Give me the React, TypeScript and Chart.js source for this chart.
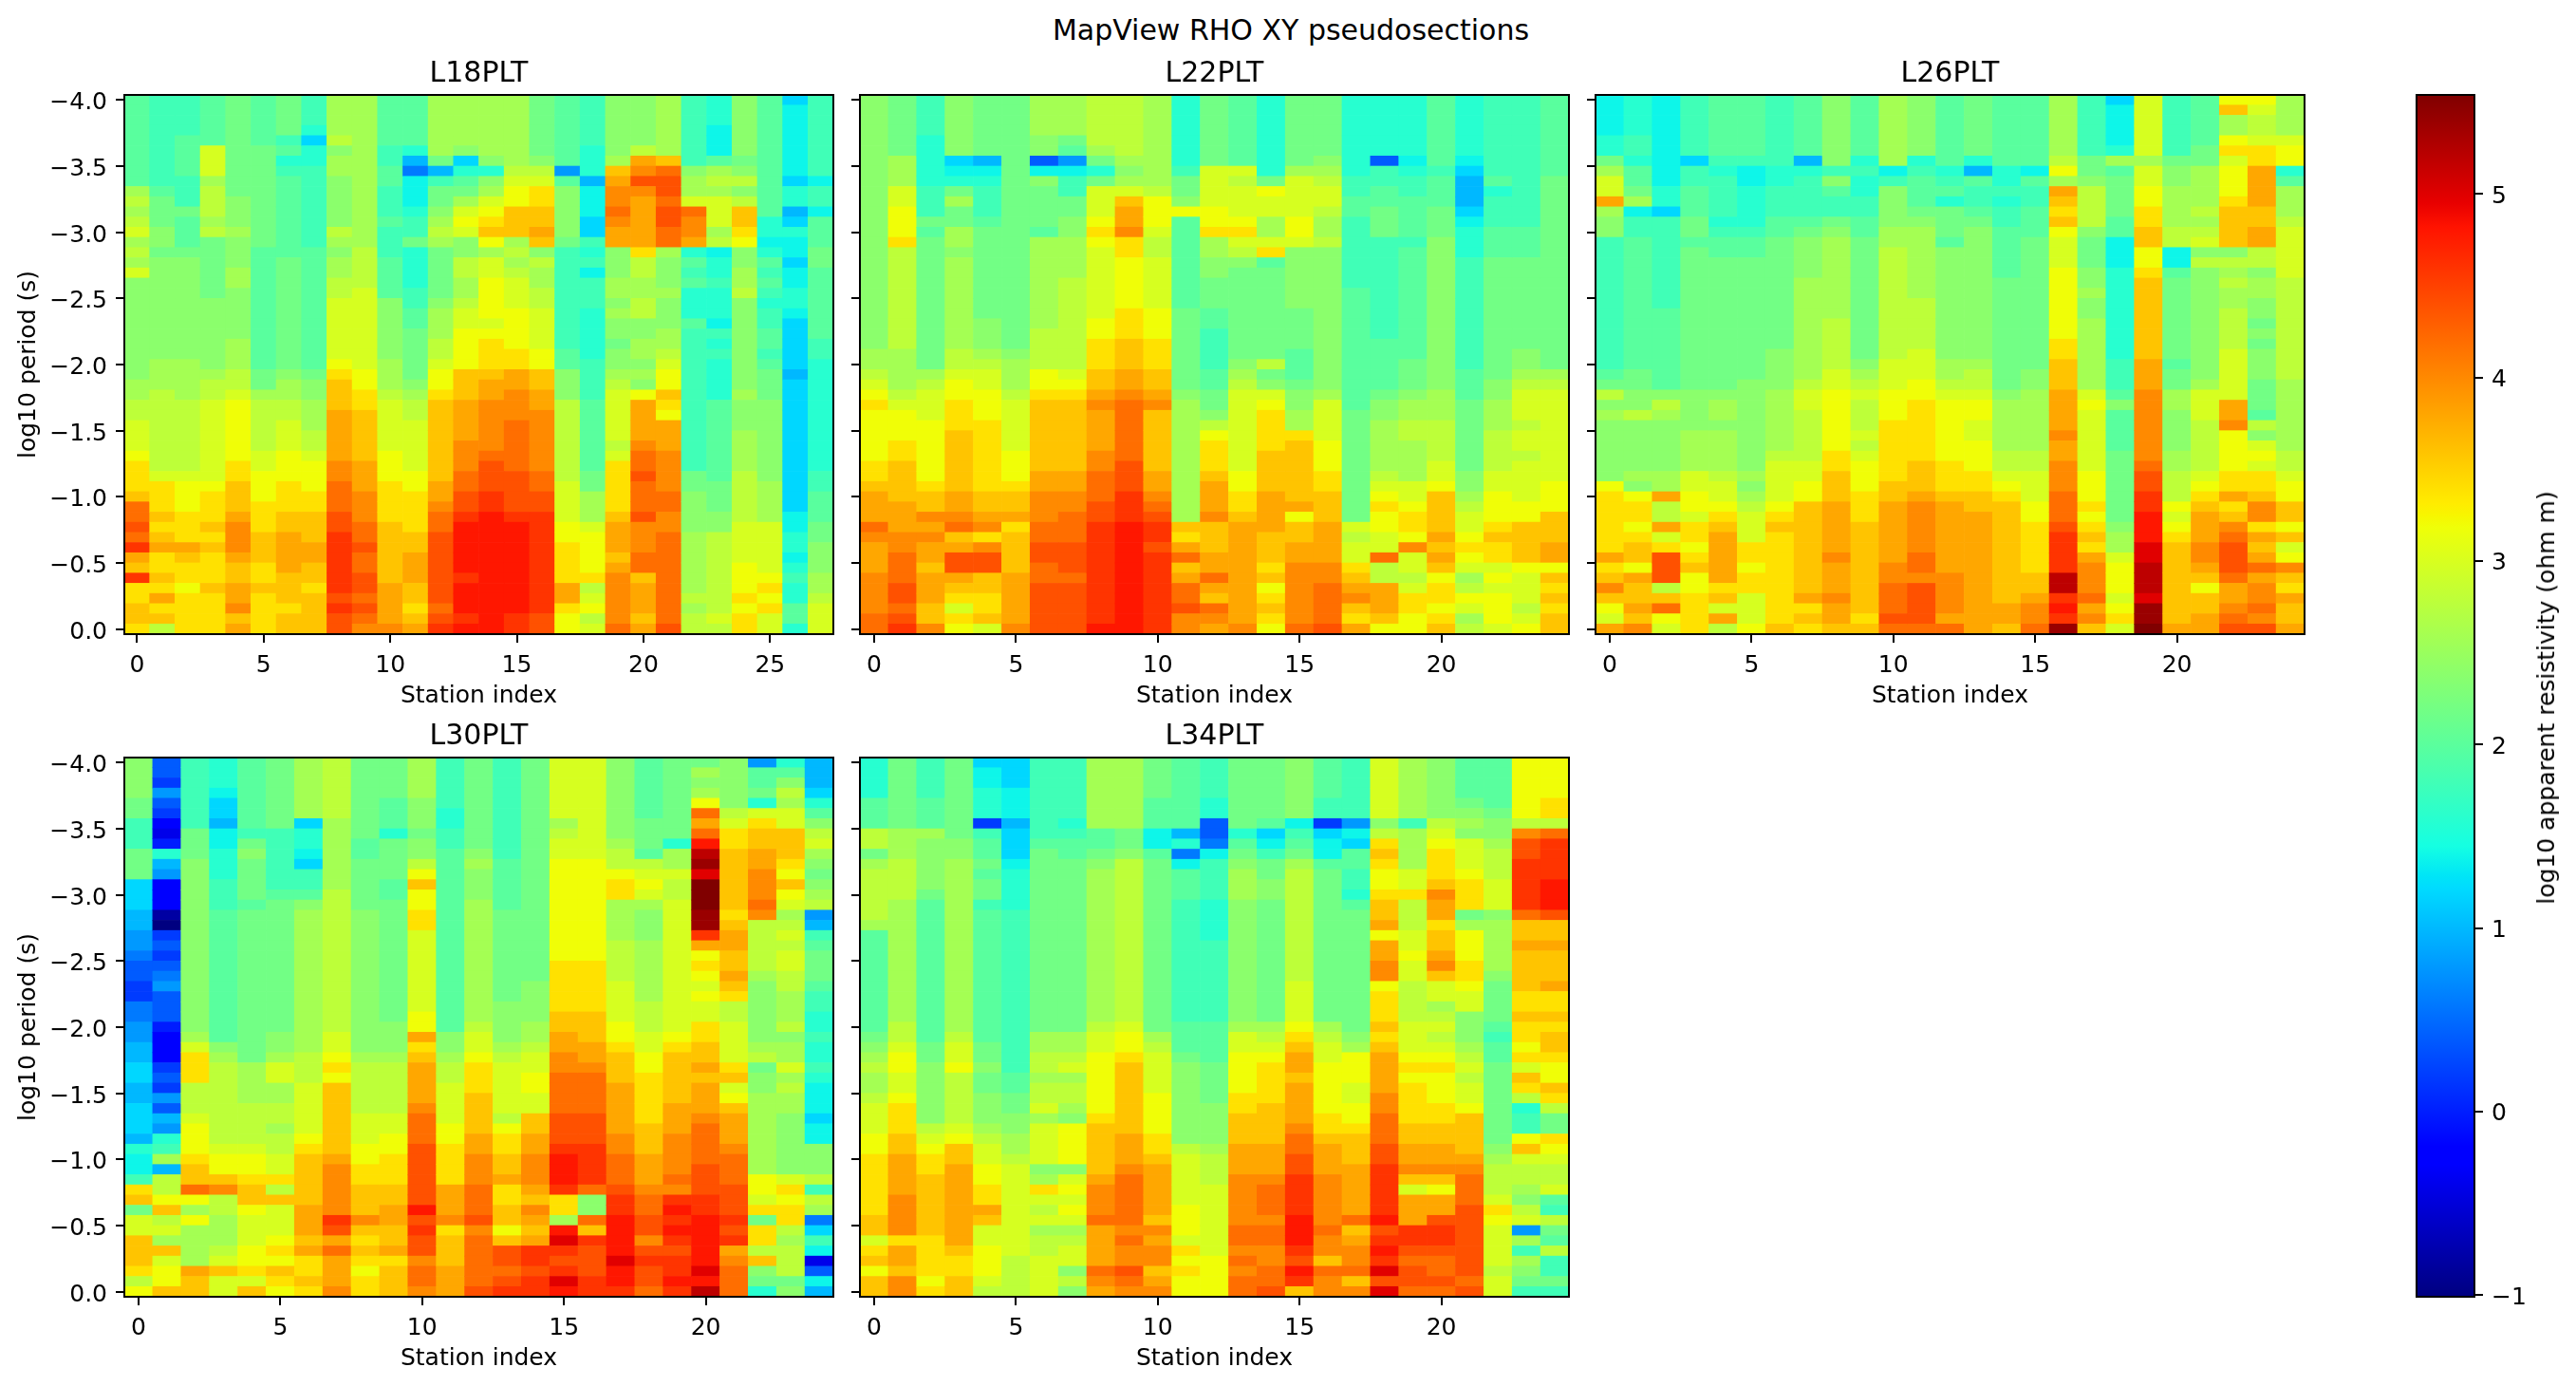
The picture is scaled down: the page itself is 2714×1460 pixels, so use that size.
import { useEffect, useRef } from 'react';
import { Chart, registerables } from 'chart.js';

Chart.register(...registerables);

// each string is one station, top row (-4.0) first, one base-36 digit per period
// value = digit * 0.2 - 1 (log10 ohm m). Groups are one decade = 13 periods.
const L18_COLUMNS = [
  'fffffffffijij kijikhhhhhhhh hhiijjkkklmmm nqqrqsonsmmnn m',
  'eeeeeeeeefggg hhghhhhhhhhhh iiijjjjjjjjkm mmnmnommnmomn j',
  'eeeeffffeeegf ffghhhhhhhhhh iiiijjjjjjjkl llmmmonmmlmmm m',
  'fffffkkkijjji jgggggghhhhhh hijjkkkkkkkkl mmmnmnmmmnmmm m',
  'gggggggggghhh ihhhiihhhhhii ijjkllllllmmn nnopppon noopn o',
  'fffffgggggggg ggfffffffffff fggijjjjjkkll lmmmnnnmmnmmm m',
  'ggggefdefffff fffgggggggggg ghiijjkkklllm mmnnoooonnnmn n',
  'eeedbddeeeeee eefffffffffff fghhiiijjklll mmnnnoonnmnnn n',
  'iiiijhiihhhhh jihiijjkkkkkk lmnnnoooooppq qqrrssssssrsr r',
  'iiiiiiiiiiiii iijjjjkkkkkkk kllmmnnnnnooo pppqqrqqrrqrq p',
  'fffffeeffeeef eeeffffhhhhhh iiijkkkkklllm mmmnnnnnnoooo p',
  'fffffda8cccde egddddeeffggg gghijjkkkkkll mmmmnnooonnmn o',
  'iiiiiigaegghi jiggggghiiijj kllmnnnnnnnno opqqrrrrrrrqr s',
  'iiiiihbdfgikl khhjjiijkklll lnnnoooopppqq rrstttttsttts t',
  'iiiiiihdhiklm nlikkllllklmm mnoopppppqrrr ssttttttttttt t',
  'iiiiiiijkllnn nijijkkkllllm moopppqqqqqrr rrsttttttttts s',
  'gggggghjkmmnn onhjiijjkkkkl lnnooppppppqq rrssssssssssr r',
  'fffffff9fhhhh hgeeeeeeeeeef fhhhjjjjjjjjk kkkllmmmmooml l',
  'eeeeedddacccb bedeceeeddddd eeeefffffffgg iiikllllmjklj k',
  'hhhhhhinoppqp oohhhiihihhgh hijkkkkkjkmmm mmnooonoppppp q',
  'hhhhhjoprpooo oomjjiijjhhii hihloooopqqrq qqrpppqqnooon o',
  'iiiiiinqrrqrr qqihhhihhhiij kllnmlooopppp qqppqqqqqqqqq r',
  'eeeeeeehiikqp podfefdddfeee eeeeeeeeeeegg hhhhiiiiiijij j',
  'dddcccfijikkk ijcddedddcede ddddffffffffg gghhjjjjjjjjk j',
  'hhhhhhghjhjnn mlhhiijhhhhhh hhhihhhiiiijj jjjkkkklllmlm m',
  'ffffffffffffd dcdfefedeeffe fggghhhhhhhhi iiikkkkklmlmk k',
  'bcccccccbddab dccbccddcbbbb babbbbbbbbbbb bbccddcdeddff d',
  'eeeeeeeeceecf ffggfffffffee dddddddddddee fffgghhhiijkk k',
];

const L22_COLUMNS = [
  'hhhhhhhhhhhhh hhhhhhhhhhhhi ijklmlllllmmn oooqpoooppppq q',
  'ggggggiiikkll lmjjjjjjjjjji iiijklllmmnnn nooopp qqq rr qr s',
  'eeeedddddeeeg fgggggggggggg gijkkkllllllm nnpopoonooonn p',
  'hhhhhhbcdgigg iihiiiiiiiiij jkllmmmnnnnnn oopqnorronmkm l',
  'ggggggacdeeef ggggggggghhhi jkklllmmmmmmm nnopmprrnnmmn k',
  'ggggggggggggg ggggggggggggh iiijkkkkklllm nnomnnnnooooo p',
  'iiiihh7chgggg fiiiiiiiiijjj jllmnnnnnnnoo pppqqrrqqrrrr r',
  'iiiigf9ceeggh hiiiijjjjjjjj jklmnnnnnnnoo ppqqqrrrqrrrr r',
  'jjjjjigdgkkkl mlkkkkkkkllmm mnnopooooppqq qrrssssssssss t',
  'jjjjjjihiknoo pmmlllllmmmnn noopqqqqqqrrr ssstttttttttt t',
  'iiiiiiiiijlll kjjkkkkklllmm mnnopnnnnnnoo pqrssrsssssss s',
  'dddddddegghlf ffffffffggggg ggghiiiiiiiii iiinmoqnoqqrp p',
  'gggggggkkkkll miihhgggffeee effgghjlmmmno oopnnnooqonqp o',
  'fffffffkjkkkl mkjhggggggggg hijkkkkkkkkll mmnoooooooooo p',
  'ddddddddglkki ikmfggggggggg jghklmmmmnnnn oooonnnmnlmnm l',
  'gggggggikkkkl lkhhhhhhggggf ffghhiimnnnnn nolnnoopppppp q',
  'gggggghijkkji ijhhhhhhhhhhh hhhikkkklllmm nnnoooopp qqqq r',
  'ddddddddeeffe eeeeeefffffff fffffgggggggg gggkjkkmnopnm o',
  'dddddd7eeffgg geeeeeeeeeeff fffghhiiiiijk lmllkkqjjooon l',
  'ddddddcdeefff fefffffffffff ggghiijjiiiik klmmlpkkjkmml l',
  'fffffffefffgg ghhhhhhhhhhhh hhhiiijjjjkkl nnnnononlmmlm n',
  'ddddddcbaaabc dddeeeeeeeeee efffggggggghh ijkklmlkijlki j',
  'eeeeeeeefdeee fffgggggggggg gghhiiijjjjkk lllmnmmklklll k',
  'eeeeeeeeeeeee fffgggggggggh hijkkkjkkjkkk kllnnnnlkkkjk l',
  'ffffffffggggg ggggggggggggg gijkkkkkkkkkl llnnnoolnmnmn n',
];

const L26_COLUMNS = [
  'ccccddgikkoih heeeeeeeeeeee efgjhihhhhhhl mmmmmmomnpnlk o',
  'ddddeedffgice effffffffffff fgghhjhhhhhih lmmlmnnlonnon p',
  'cccccccccddbe eeeeeeeefffff fffhjihhhhhii ojjokmrrrjnql k',
  'eeeeeebeefffg gfggggggggggg ggghhhhiiiikk llkmmlmnllmmm m',
  'ffffffedeeeed effgggggggggg ggghiihiiiijk klmnooooomnko j',
  'ffffffeccdddd effgggggggggg gghhhhhhhhhih ijkkkmmlmmkkk l',
  'eeeeeeeddeeef fgggggggggggh hhhiiiiiijkkk klmnmmmmmmmmm n',
  'ffffffadeeeef ghhhhiiiiiiii iijkkjjjjjkkl lnnnnnnnnnomn m',
  'hhhhhhhehfeeg hiiiiiiiijjjj jkkllllllmmnn nooooopooopoo n',
  'ffffffdeddeef fgggggggggggg hijkjjjkjklll mmmnnnnnnnnnm n',
  'iiiiiiicehhhh iijjjjjjjjjjj kkklllmmmmmmn nooooooppqqqr q',
  'hhhhhhdefffgh iiiiiiijjjjjk kkllmmmmmmnnn opppppqqprrrr q',
  'fffffffdefdgg gfhhhhhhhhhhh iijkllllllmmm noooooooppppo q',
  'ggggggdafeefg hhhhhhhhhhhhh ijjkllkklllmm nnooooooooooo o',
  'fffffffddedee fffffgggggggg ggghiiiiijjkl mnnnnnnnnnnoo n',
  'fffffffcfeeff fgggggggggggg ghhiiiiiijjkk kllmmmmmnnopp q',
  'iiiiiijlionmn lkkklllllllmm nnnoooopooppp qqqrssssvvsts w',
  'eeeeeegghjjjj hggghhihhiiii iiiklkkkkkkll lmlmnmopppqop n',
  'bccccdifggggf fcccddddddddd eeefhffffgggg ggghiiklllklm k',
  'kkkkkkikkllmm nnllmnnnnnnnn ooopppppppqrr sstttuuvvvuww x',
  'eeeeeeghhiiii jjccfgggggggg fggiihhhhiijj jlklmnnnnnnnn o',
  'fffffggiiiiji jkhjhhhhhhhhh hhikkkjjjjjkl mnooopponlnno o',
  'lniilmklllmnn nnhjijiijjjjk kkkkoopllllmm omnpqrrrqoopq r',
  'lkjjkmmoooonn oojjhiihhghgh hhgggfjhklkmm nppmonoqoppqp r',
  'iiiiklldfiiij kkkkkjjjjjjjj jjiiiiiiijjkl lnnlnklpnmonn o',
];

const L30_COLUMNS = [
  'hhhhggeeegggb bbaa998776688 99aabbaabbbad ccemngkknnnmj l',
  '776976435da94 4410676789777 544467697a9de iajjlnjkinkll n',
  'eeeeeeeggghhh hhhhhhhhhhhhh hikmmmjjjklll mnnqliliiiion n',
  'dddcbbaccddde eefffffffffff ffhijjjjjjjjk llnpjjiiijknk k',
  'fffffffeghggg gfggggggggggg ggggiiiijjjjk llmnnlkkkllmk n',
  'gggggggeeeeee fgggggggggggg ghhikkiijjijj kkmjnkkklmlnm l',
  'iiiiiibddcbee fhiiiiiiiiiii iiijjjkkkkklm nnnnnooonommn m',
  'jjjjjjiiiiiii jjjjjjjjjjjjj jkklmlnnnnnnn opppppsroqooo p',
  'ggggggggffggg gghhhhhhhhhhh hhhijjjjjkkkl lmmnnnpnmnmlm m',
  'ggggfffdggggf fgggggggggggg hhhijjjjjkkll mmmnnoonnomnn n',
  'iiiihhhghhjln llmmkkkkkkkkl lomnoooopqqqr rrrrrtrsrrpqq p',
  'eeeeeddeeffff fffffffffffff fhhijjkkkkllm mmmooopmnnnoo o',
  'ggggggggghihh hiiiiiiiiiiii jkklmmmnnnnoo pppqqqrpqqqqq r',
  'eeeeeeeeeefff ffggggggggghh hhijkkkkkjlmm nnommnnlnrrqr s',
  'ggggggggggggg ggggggggghhhh iijkkllkknnoo ppponponossrs s',
  'kkkkkkijkklll lllllllmmmmmn noopp qqqq rrrs tttsmmitusrsu t',
  'kkkkkkkkkklll lllllllmmmmmn nnoopqqqqrrrs sssqhhqnsrrrs s',
  'hhhhhhhhijjlm miiiijjjjkkkk llmnnnooooopp qqqrssttttutt s',
  'ffffffgggfjkl kihhhiiiiiijj jkkllmmmmmnnn ooopqqrrprsrr q',
  'ggggggggdiikj jkkkkkkkkkkkk klmnnnnnooopp ppqpststsrsst s',
  'gihilqoqtvwux xxwwsolmlklkk mmnnonooopqqq qrrrsstttttut v',
  'hhhhhjkmmnnnn nnmnoonnonmjj kkkkmnklnooop qqqrrrsrsopqq q',
  '9ffgdkmnnoopp pqpjjjjjihhhh hhijghhiiiiii iillkmgmmjnhg d',
  'dfhjikknnnmln lkijkjkkjjiii jhiikijiihhhh hhkmlmmjijjjg h',
  'aaabdfhjkihgh ij9aefgggfeed deddedcccbcch hhjeji8bec37c a',
];

const L34_COLUMNS = [
  'ddddfffjjgijj jjjifffffffff fghijiijkkkll mmmmmmnnkmnln n',
  'gggggggiiijjj jiiiiiiiiiiii jjkllkklmmmnn ooooppppmoonp p',
  'eeeefffihhhhh gffffffffffff ffgghhhhhhjkl mmnnnnnnmmmml m',
  'gggggggghhiii iiiiiiiiiiiii ijkkljjjjjkln noooooooonmmn n',
  'bccddd6effgfg gefffffffffff ffgghgghhhijk kllmmonkklllk j',
  'bbbcccabbbcdd ddeeeeeeeeeee eeeeeffgghhii jkkkkkkkkkjjj j',
  'eeeeeeeefgggg ggggggggggggg giijjijjkikkk khimkjkijjkkk k',
  'eeeeeedeffggg ggggggggggggg giijkijjihlll lhklklkijkkhj h',
  'iiiiiiiffghii iiiiiiiiiiiii jkkllllllmnnn nnopppqooooqp o',
  'iiiiiiigghjjj jjjjjjjjjjjjj kllmnnnnnnnoo opqqqqqpqpprq p',
  'ggggfffccfggg ggggggggggggg gijkkkkllllmm nooooonpoppno p',
  'fffffffad8cff feeeeeeeeeeee fffghhhhhhhhj kkkkklllkmlml l',
  'eeeedd778ceee eddddeeeeeeee ffffgggghhhhi jjjkkkkkkklll l',
  'gggggggdfghii ihhhhhhhhhhhh ikkllllmmnnno oopppppqqpqpq q',
  'ggggggfbceggh hgggggggggggg ijklmmmmnnnno oopqqqpqqppqq r',
  'hhhhhhcefgijj jjjjjjjjjkkkk lmnoonoooopqq rrssssttts rts n',
  'ffffee6bccfgg ggggggggggggg ijkklllllmmno oopppppqppnqp p',
  'eeeeee9cbffee dfggggggggggg ghilllkkllmnn nooooo qnoppqn p',
  'kkkkkkhjmnmll mnnolooppl mmm nmnoooopp qqqr rsssss trstsur u',
  'iiiiiieiiiikk mjjjkklkkjjjj kkklmlmmmmnno opnkooossrqrr q',
  'hhhhhhjklmmmn poomnnopnkkij kjklmlllmmnno opnloorssrqqr q',
  'ffffghihkkklm mmgilllmmlkkh hhijkjkklnnnn opqqqrrrrrrrq r',
  'fffffghhijjjk kkhiiiiihgggg feffggggggggh ijjjkmlkkkkjk k',
  'lllllljprrsss ssqnnonnnnmmn mmlmknmjdeeln kjjihjk9ieihg e',
  'llllmmjqsssst ttrnnonnnommn mnnmllnmjggml kjjkfejgfjeeg e',
];

const PANEL_TITLES = ['L18PLT', 'L22PLT', 'L26PLT', 'L30PLT', 'L34PLT'];
const X_TICKS_L18 = [0, 5, 10, 15, 20, 25];
const X_TICKS = [0, 5, 10, 15, 20];
const Y_TICKS = [-4, -3.5, -3, -2.5, -2, -1.5, -1, -0.5, 0];
const CBAR_TICKS = [-1, 0, 1, 2, 3, 4, 5];
const CBAR_RANGE = [-1.01, 5.54];
const VMIN = -1;
const VMAX = 5.55;
const PERIOD_STEP = 1 / 13;

const FONT = 'DejaVu Sans';
const TEXT = '#000000';
const LABEL_SIZE = 25;
const TITLE_SIZE = 30;

// matplotlib jet breakpoints
const JET_R = [[0, 0], [0.35, 0], [0.66, 1], [0.89, 1], [1, 0.5]];
const JET_G = [[0, 0], [0.125, 0], [0.375, 1], [0.64, 1], [0.91, 0], [1, 0]];
const JET_B = [[0, 0.5], [0.11, 1], [0.34, 1], [0.65, 0], [1, 0]];
const JET_STOPS = [0, 0.11, 0.125, 0.34, 0.35, 0.375, 0.64, 0.65, 0.66, 0.89, 0.91, 1];

function channel(table: number[][], t: number) {
  for (let i = 1; i < table.length; i++) {
    if (t <= table[i][0]) {
      const [x0, y0] = table[i - 1];
      const [x1, y1] = table[i];
      return y0 + ((t - x0) / (x1 - x0)) * (y1 - y0);
    }
  }
  return table[table.length - 1][1];
}

function jet(t: number) {
  const c = Math.min(1, Math.max(0, t));
  const r = Math.round(channel(JET_R, c) * 255);
  const g = Math.round(channel(JET_G, c) * 255);
  const b = Math.round(channel(JET_B, c) * 255);
  return `rgb(${r},${g},${b})`;
}

const minusLabel = (v: number, digits: number) => {
  const s = Math.abs(v).toFixed(digits);
  return v < 0 ? '\u2212' + s : s;
};

// draws the black box round the axes
const framePlugin = {
  id: 'frame',
  afterDraw(chart: Chart) {
    const { ctx, chartArea: a } = chart;
    ctx.save();
    ctx.strokeStyle = '#000';
    ctx.lineWidth = 2;
    ctx.strokeRect(a.left, a.top, a.width, a.height);
    ctx.restore();
  },
};

interface PanelProps {
  columns: string[];
  title: string;
  xTicks: number[];
  left: number;
  top: number;
  showY: boolean;
}

function Panel({ columns, title, xTicks, left, top, showY }: PanelProps) {
  const canvasRef = useRef<HTMLCanvasElement>(null);

  useEffect(() => {
    if (!canvasRef.current) return;
    const cells: { x: number; y: number[] }[] = [];
    const colors: string[] = [];
    columns.forEach((col, x) => {
      col.replace(/ /g, '').split('').forEach((ch, row) => {
        const period = -4 + row * PERIOD_STEP;
        const value = parseInt(ch, 36) * 0.2 - 1;
        cells.push({ x, y: [period - PERIOD_STEP / 2, period + PERIOD_STEP / 2] });
        colors.push(jet((value - VMIN) / (VMAX - VMIN)));
      });
    });

    const chart = new Chart(canvasRef.current, {
      type: 'bar',
      data: {
        datasets: [{
          data: cells as any,
          backgroundColor: colors,
          borderWidth: 0,
          barPercentage: 1,
          categoryPercentage: 1,
        }],
      },
      options: {
        animation: false,
        responsive: false,
        devicePixelRatio: 1,
        layout: { padding: { right: 30 } },
        plugins: {
          legend: { display: false },
          tooltip: { enabled: false },
          title: {
            display: true,
            text: title,
            fullSize: false,
            color: TEXT,
            font: { family: FONT, size: TITLE_SIZE, weight: 'normal', lineHeight: 1.25 },
            padding: { top: 3, bottom: 3.5 },
          },
        },
        scales: {
          x: {
            type: 'linear',
            offset: false,
            min: -0.5,
            max: columns.length - 0.5,
            afterBuildTicks: (s: any) => { s.ticks = xTicks.map(value => ({ value })); },
            afterFit: (s: any) => { s.height = 100; },
            grid: { offset: false, drawOnChartArea: false, tickLength: 9, lineWidth: 2, tickColor: '#000' },
            border: { display: false },
            ticks: {
              color: TEXT,
              font: { family: FONT, size: LABEL_SIZE },
              padding: 9,
              autoSkip: false,
              maxRotation: 0,
              minRotation: 0,
            },
            title: {
              display: true,
              text: 'Station index',
              color: TEXT,
              font: { family: FONT, size: LABEL_SIZE },
              padding: { top: 0, bottom: 19.5 },
            },
          },
          y: {
            type: 'linear',
            reverse: true,
            min: -4 - PERIOD_STEP / 2,
            max: PERIOD_STEP / 2,
            afterBuildTicks: (s: any) => { s.ticks = Y_TICKS.map(value => ({ value })); },
            afterFit: (s: any) => { s.width = 130; },
            grid: { drawOnChartArea: false, tickLength: 9, lineWidth: 2, tickColor: '#000' },
            border: { display: false },
            ticks: {
              display: showY,
              color: TEXT,
              font: { family: FONT, size: LABEL_SIZE },
              padding: 9,
              labelOffset: 3.5,
              autoSkip: false,
              callback: (v: any) => minusLabel(Number(v), 1),
            },
            title: {
              display: showY,
              text: 'log10 period (s)',
              color: TEXT,
              font: { family: FONT, size: LABEL_SIZE },
              padding: { top: 14, bottom: 0 },
            },
          },
        },
      },
      plugins: [framePlugin],
    });

    return () => { chart.destroy(); };
  }, [columns, title, xTicks, showY]);

  return (
    <canvas
      ref={canvasRef}
      width={907}
      height={712}
      style={{ position: 'absolute', left: left - 130, top: top - 44 }}
    />
  );
}

function Colorbar() {
  const canvasRef = useRef<HTMLCanvasElement>(null);

  useEffect(() => {
    if (!canvasRef.current) return;

    const chart = new Chart(canvasRef.current, {
      type: 'bar',
      data: {
        datasets: [{
          data: [{ x: 0, y: CBAR_RANGE }] as any,
          borderWidth: 0,
          barPercentage: 1,
          categoryPercentage: 1,
          backgroundColor: (ctx: any) => {
            const area = ctx.chart.chartArea;
            if (!area) return '#fff';
            const g = ctx.chart.ctx.createLinearGradient(0, area.bottom, 0, area.top);
            JET_STOPS.forEach(t => g.addColorStop(t, jet(t)));
            return g;
          },
        }],
      },
      options: {
        animation: false,
        responsive: false,
        devicePixelRatio: 1,
        layout: { padding: { left: 10, top: 30, bottom: 30 } },
        plugins: { legend: { display: false }, tooltip: { enabled: false } },
        scales: {
          x: {
            type: 'linear',
            display: false,
            offset: false,
            min: -0.5,
            max: 0.5,
            afterBuildTicks: (s: any) => { s.ticks = [{ value: -0.5 }, { value: 0.5 }]; },
          },
          y: {
            type: 'linear',
            position: 'right',
            min: CBAR_RANGE[0],
            max: CBAR_RANGE[1],
            afterBuildTicks: (s: any) => { s.ticks = CBAR_TICKS.map(value => ({ value })); },
            afterFit: (s: any) => { s.width = 79; },
            grid: { drawOnChartArea: false, tickLength: 9, lineWidth: 2, tickColor: '#000' },
            border: { display: false },
            ticks: {
              color: TEXT,
              font: { family: FONT, size: LABEL_SIZE },
              padding: 9,
              labelOffset: 3,
              autoSkip: false,
              callback: (v: any) => minusLabel(Number(v), 0),
            },
          },
        },
      },
      plugins: [framePlugin],
    });

    return () => { chart.destroy(); };
  }, []);

  return (
    <canvas
      ref={canvasRef}
      width={150}
      height={1326}
      style={{ position: 'absolute', left: 2536, top: 70 }}
    />
  );
}

export default function App() {
  const rowTop = [100, 798];
  const colLeft = [131, 906, 1681];

  return (
    <div style={{ position: 'absolute', left: 0, top: 0, width: 2714, height: 1460, overflow: 'hidden', background: '#fff', fontFamily: FONT, color: TEXT }}>
      <div style={{ position: 'absolute', left: 1360, top: 15, fontSize: TITLE_SIZE, lineHeight: '34px', whiteSpace: 'nowrap', transform: 'translateX(-50%)' }}>
        MapView RHO XY pseudosections
      </div>
      <Panel columns={L18_COLUMNS} title={PANEL_TITLES[0]} xTicks={X_TICKS_L18} left={colLeft[0]} top={rowTop[0]} showY />
      <Panel columns={L22_COLUMNS} title={PANEL_TITLES[1]} xTicks={X_TICKS} left={colLeft[1]} top={rowTop[0]} showY={false} />
      <Panel columns={L26_COLUMNS} title={PANEL_TITLES[2]} xTicks={X_TICKS} left={colLeft[2]} top={rowTop[0]} showY={false} />
      <Panel columns={L30_COLUMNS} title={PANEL_TITLES[3]} xTicks={X_TICKS} left={colLeft[0]} top={rowTop[1]} showY />
      <Panel columns={L34_COLUMNS} title={PANEL_TITLES[4]} xTicks={X_TICKS} left={colLeft[1]} top={rowTop[1]} showY={false} />
      <Colorbar />
      <div style={{ position: 'absolute', left: 2683, top: 735, fontSize: LABEL_SIZE, lineHeight: '28px', whiteSpace: 'nowrap', transform: 'translate(-50%, -50%) rotate(-90deg)' }}>
        log10 apparent resistivity (ohm m)
      </div>
    </div>
  );
}
